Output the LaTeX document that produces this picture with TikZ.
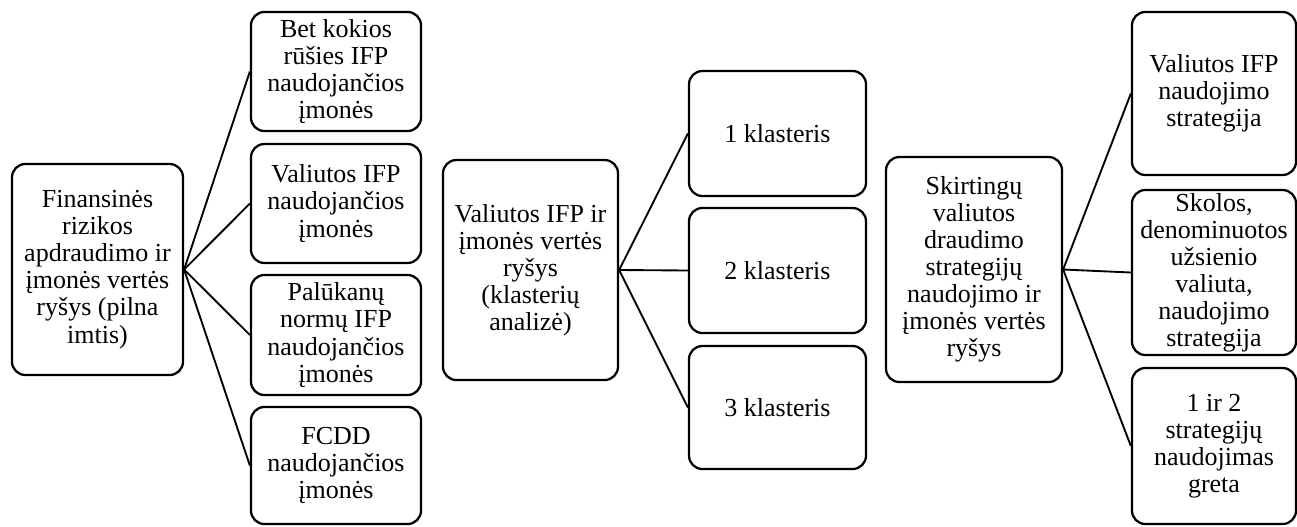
\documentclass[tikz,border=0pt]{standalone}
\usepackage{fontspec}
\setmainfont{Liberation Serif}
\tikzset{>=latex}
\tikzset{
  blokas/.style={draw, line width=1.7pt, rounded corners=10pt, align=center,
    inner sep=2pt, font=\fontsize{19.5}{20.3}\selectfont},
  dydis/.style 2 args={minimum width=#1*0.75pt, minimum height=#2*0.75pt},
  saka/.style={line width=1.4pt},
}

\begin{document}
\begin{tikzpicture}[x=0.75pt, y=-0.75pt]
  \useasboundingbox (0,0) rectangle (1297,526);
  % pilna imtis
  \node[blokas, dydis={171}{211}] (pilna) at (97.5,269.5) {Finansinės\\rizikos\\apdraudimo ir\\įmonės vertės\\ryšys (pilna\\imtis)};
  \node[blokas, dydis={170}{119}] (fa) at (336,71.5) {Bet kokios\\rūšies IFP\\naudojančios\\įmonės};
  \node[blokas, dydis={170}{119}] (fb) at (336,203.5) {Valiutos IFP\\naudojančios\\įmonės};
  \node[blokas, dydis={170}{120}] (fc) at (336,335) {Palūkanų\\normų IFP\\naudojančios\\įmonės};
  \node[blokas, dydis={170}{117}] (fd) at (336,465.5) {FCDD\\naudojančios\\įmonės};
  % klasteriai
  \node[blokas, dydis={175}{220}] (klast) at (530.5,270) {Valiutos IFP ir\\įmonės vertės\\ryšys\\(klasterių\\analizė)};
  \node[blokas, dydis={177}{125}] (ka) at (777.5,133.5) {1 klasteris};
  \node[blokas, dydis={177}{125}] (kb) at (777.5,270.5) {2 klasteris};
  \node[blokas, dydis={177}{123}] (kc) at (777.5,407.5) {3 klasteris};
  % strategijos
  \node[blokas, dydis={176}{225}] (strat) at (974,269.5) {Skirtingų\\valiutos\\draudimo\\strategijų\\naudojimo ir\\įmonės vertės\\ryšys};
  \node[blokas, dydis={164}{163}] (sa) at (1214,93.5) {Valiutos IFP\\naudojimo\\strategija};
  \node[blokas, dydis={164}{165}] (sb) at (1214,272.5) {Skolos,\\denominuotos\\užsienio\\valiuta,\\naudojimo\\strategija};
  \node[blokas, dydis={164}{156}] (sc) at (1214,446) {1 ir 2\\strategijų\\naudojimas\\greta};

  \foreach \t in {fa,fb,fc,fd} \draw[saka] (pilna.east) -- (\t.west);
  \foreach \t in {ka,kb,kc} \draw[saka] (klast.east) -- (\t.west);
  \foreach \t in {sa,sb,sc} \draw[saka] (strat.east) -- (\t.west);
\end{tikzpicture}
\end{document}
